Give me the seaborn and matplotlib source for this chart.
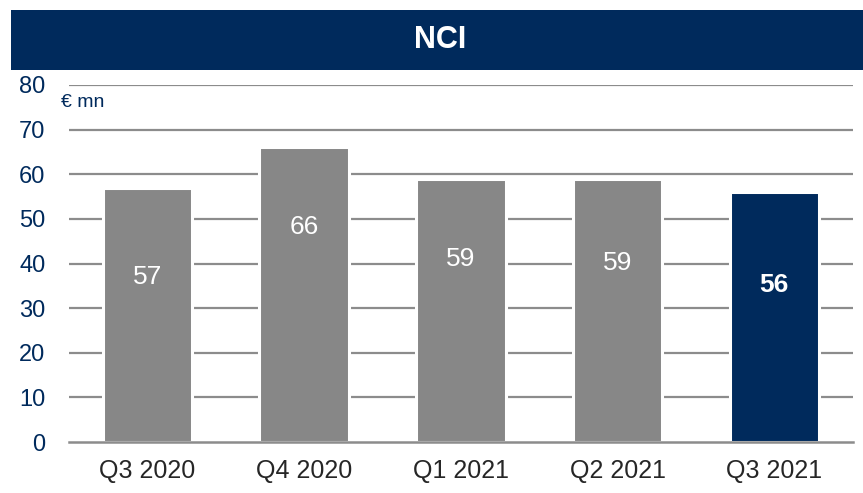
import matplotlib
matplotlib.use("Agg")
import matplotlib.pyplot as plt
import numpy as np
import pandas as pd
import seaborn as sns
from matplotlib.patches import Rectangle
from matplotlib.ticker import FixedLocator

NAVY = "#002A5C"
GREY = "#878787"

quarters = ["Q3 2020", "Q4 2020", "Q1 2021", "Q2 2021", "Q3 2021"]
nci_values = [57, 66, 59, 59, 56]
bar_colors = [GREY, GREY, GREY, GREY, NAVY]
y_ticks = [0, 10, 20, 30, 40, 50, 60, 70, 80]
# where the value labels sit inside each bar (data units)
label_pos = [37.0, 48.2, 41.0, 40.1, 35.2]

sns.set_style("white")
plt.rcParams["font.family"] = ["Liberation Sans", "DejaVu Sans"]

df = pd.DataFrame({"quarter": quarters, "nci": nci_values})

fig = plt.figure(figsize=(8.63, 4.93), dpi=100)
ax = fig.add_axes([0.080, 0.1034, 0.908, 0.7242])

# grid lines first, bars get a white edge so the lines look broken around them
for t in y_ticks[1:]:
    ax.axhline(t, color="#8c8c8c", lw=1.6, zorder=0)

sns.barplot(data=df, x="quarter", y="nci", hue="quarter", palette=bar_colors,
            legend=False, width=0.57, edgecolor="white", linewidth=2.2,
            saturation=1, ax=ax, zorder=2)

ax.set_xlim(-0.5, len(quarters) - 0.5)
ax.set_ylim(0, 80)
ax.set_yticks(y_ticks)
ax.set_xlabel("")
ax.set_ylabel("")

for s in ["top", "right", "left"]:
    ax.spines[s].set_visible(False)
ax.spines["bottom"].set_color("#8c8c8c")
ax.spines["bottom"].set_linewidth(1.8)
ax.spines["bottom"].set_zorder(3)

ax.tick_params(axis="y", length=0, labelsize=17, labelcolor=NAVY, pad=17)
ax.tick_params(axis="x", which="major", length=0, labelsize=18, pad=12)
ax.xaxis.set_minor_locator(FixedLocator(np.arange(-0.5, len(quarters), 1.0)))
ax.tick_params(axis="x", which="minor", length=6, width=1.8, color="#8c8c8c",
               direction="out")

for i, v in enumerate(nci_values):
    last = i == len(nci_values) - 1
    ax.text(i, label_pos[i], str(v), ha="center", va="center", color="white",
            fontsize=19, fontweight="bold" if last else "normal", zorder=4)

ax.text(-0.01, 0.975, "€ mn", transform=ax.transAxes, ha="left", va="top",
        color=NAVY, fontsize=14)

# title band
fig.patches.append(Rectangle((0.0127, 0.858), 1.0, 0.1217, transform=fig.transFigure,
                             facecolor=NAVY, edgecolor="none", zorder=0))
fig.text(0.51, 0.918, "NCI", ha="center", va="center", color="white",
         fontsize=22, fontweight="bold")

fig.savefig("out.png", dpi=100)
